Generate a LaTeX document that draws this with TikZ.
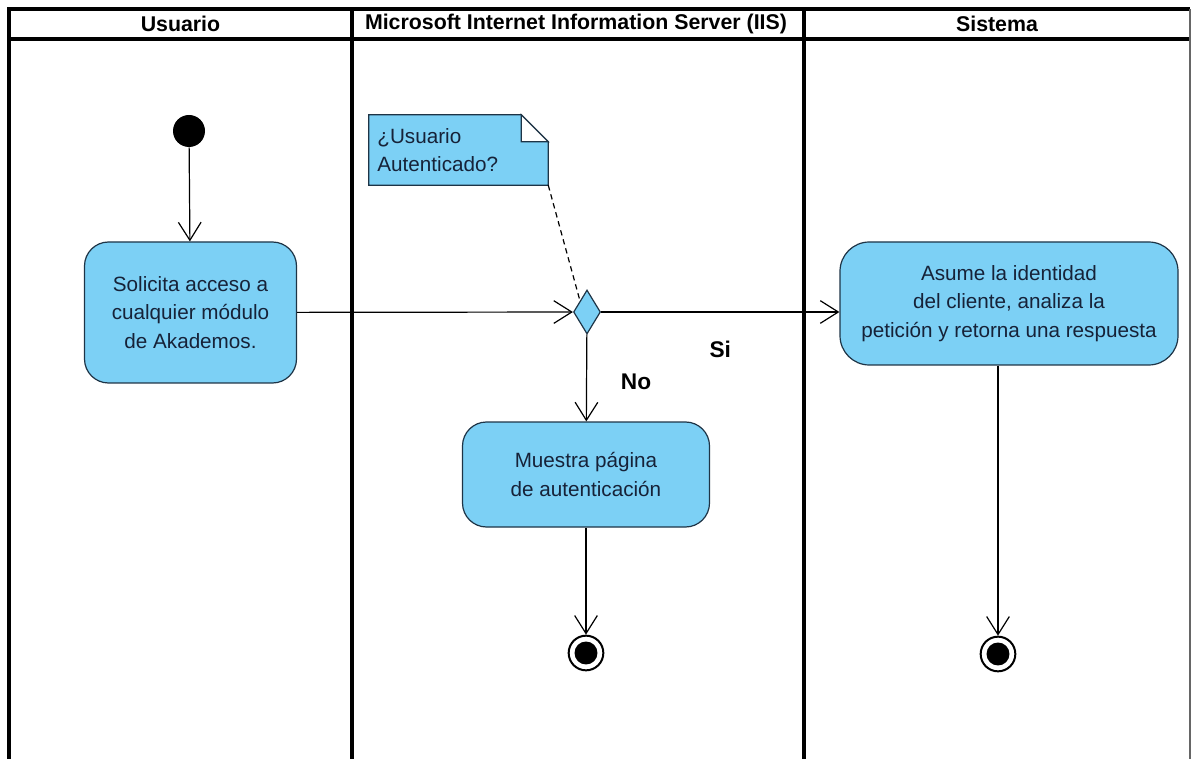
\documentclass[tikz,border=0pt]{standalone}
\usepackage{fontspec}
\setmainfont{Liberation Sans}
\usetikzlibrary{shapes.geometric}
\usetikzlibrary{arrows.meta, calc, positioning}
\definecolor{actfill}{RGB}{124,208,245}
\definecolor{actline}{RGB}{30,52,70}
\definecolor{acttext}{RGB}{22,34,56}

\begin{document}
\begin{tikzpicture}[x=0.75pt,y=-0.75pt,
	>={Straight Barb[length=13.5pt,width=17pt]},
	lane/.style={line width=2.4pt},
	lanetitle/.style={font=\bfseries\fontsize{16}{18}\selectfont},
	action/.style={rectangle, rounded corners=18pt, draw=actline, line width=0.9pt, fill=actfill,
		text=acttext, align=center, font=\fontsize{15.5}{21.5}\selectfont},
	guard/.style={font=\bfseries\fontsize{17}{20}\selectfont},
	flow/.style={->, line width=0.9pt}]
		\useasboundingbox (0,0) rectangle (1193,759);
		% swimlanes
		\draw [lane] (9,759)--(9,9)--(1190,9);
		\draw [lane] (9,39)--(1190,39);
		\draw [lane] (352,9)--(352,759);
		\draw [lane] (804,9)--(804,759);
		\draw [line width=1pt, black!60] (1190,9)--(1190,759);
		\node [lanetitle] (u) at (180.5,24) {Usuario};
		\node [lanetitle] (iis) at (576,24) {Microsoft Internet Information Server (IIS)};
		\node [lanetitle] (s) at (997,24) {Sistema};
		% states
		\node [circle, fill=black, minimum size=24pt, inner sep=0] (start) at (189,131) {};
		\node [action, minimum width=159pt, minimum height=105.75pt] (solicita) at (190.5,312.5)
			{Solicita acceso a\\cualquier módulo\\de Akademos.};
		\node [diamond, draw=actline, line width=0.9pt, fill=actfill, minimum width=20.25pt,
			minimum height=33pt, inner sep=0] (decision) at (587,312) {};
		\node [action, minimum width=185.25pt, minimum height=78.75pt] (muestra) at (586,474.5)
			{Muestra página\\de autenticación};
		\node [action, minimum width=253.5pt, minimum height=92.25pt, rounded corners=22pt] (asume) at (1009,303.5)
			{Asume la identidad\\del cliente, analiza la\\petición y retorna una respuesta};
		\node [circle, draw, line width=1.5pt, minimum size=26pt, inner sep=0,
			path picture={\fill (path picture bounding box.center) circle (8.6pt);}] (fin1) at (586,653) {};
		\node [circle, draw, line width=1.5pt, minimum size=26pt, inner sep=0,
			path picture={\fill (path picture bounding box.center) circle (8.6pt);}] (fin2) at (998,654) {};
		% note
		\node [minimum width=134.25pt, minimum height=52.5pt, inner sep=0] (nota) at (458.5,150) {};
		\filldraw [fill=actfill, draw=actline, line width=0.9pt]
			(nota.north west) -- ($(nota.north east)+(-27,0)$) -- ($(nota.north east)+(0,27)$)
			-- (nota.south east) -- (nota.south west) -- cycle;
		\draw [draw=actline, line width=0.9pt, fill=white]
			($(nota.north east)+(-27,0)$) -- ($(nota.north east)+(-27,27)$) -- ($(nota.north east)+(0,27)$) -- cycle;
		\node [anchor=west, align=left, text=acttext, font=\fontsize{15.5}{21.5}\selectfont] (notatxt)
			at ($(nota.west)+(4,0)$) {¿Usuario\\Autenticado?};
		\draw [dashed, dash pattern=on 4pt off 3pt, line width=0.9pt] (nota.south east)--(decision.north west);
		% transitions
		\draw [flow] (start)--(solicita);
		\draw [flow] (solicita)--(decision);
		\draw [flow] (decision.east)--(decision.east -| asume.west) node[pos=0.5, below=18pt, guard] {Si};
		\draw [flow] (decision)--(muestra) node[pos=0.55, right=22pt, guard] {No};
		\draw [flow] (muestra)--(fin1);
		\draw [flow] (asume.south -| fin2)--(fin2);
		\end{tikzpicture}
\end{document}
